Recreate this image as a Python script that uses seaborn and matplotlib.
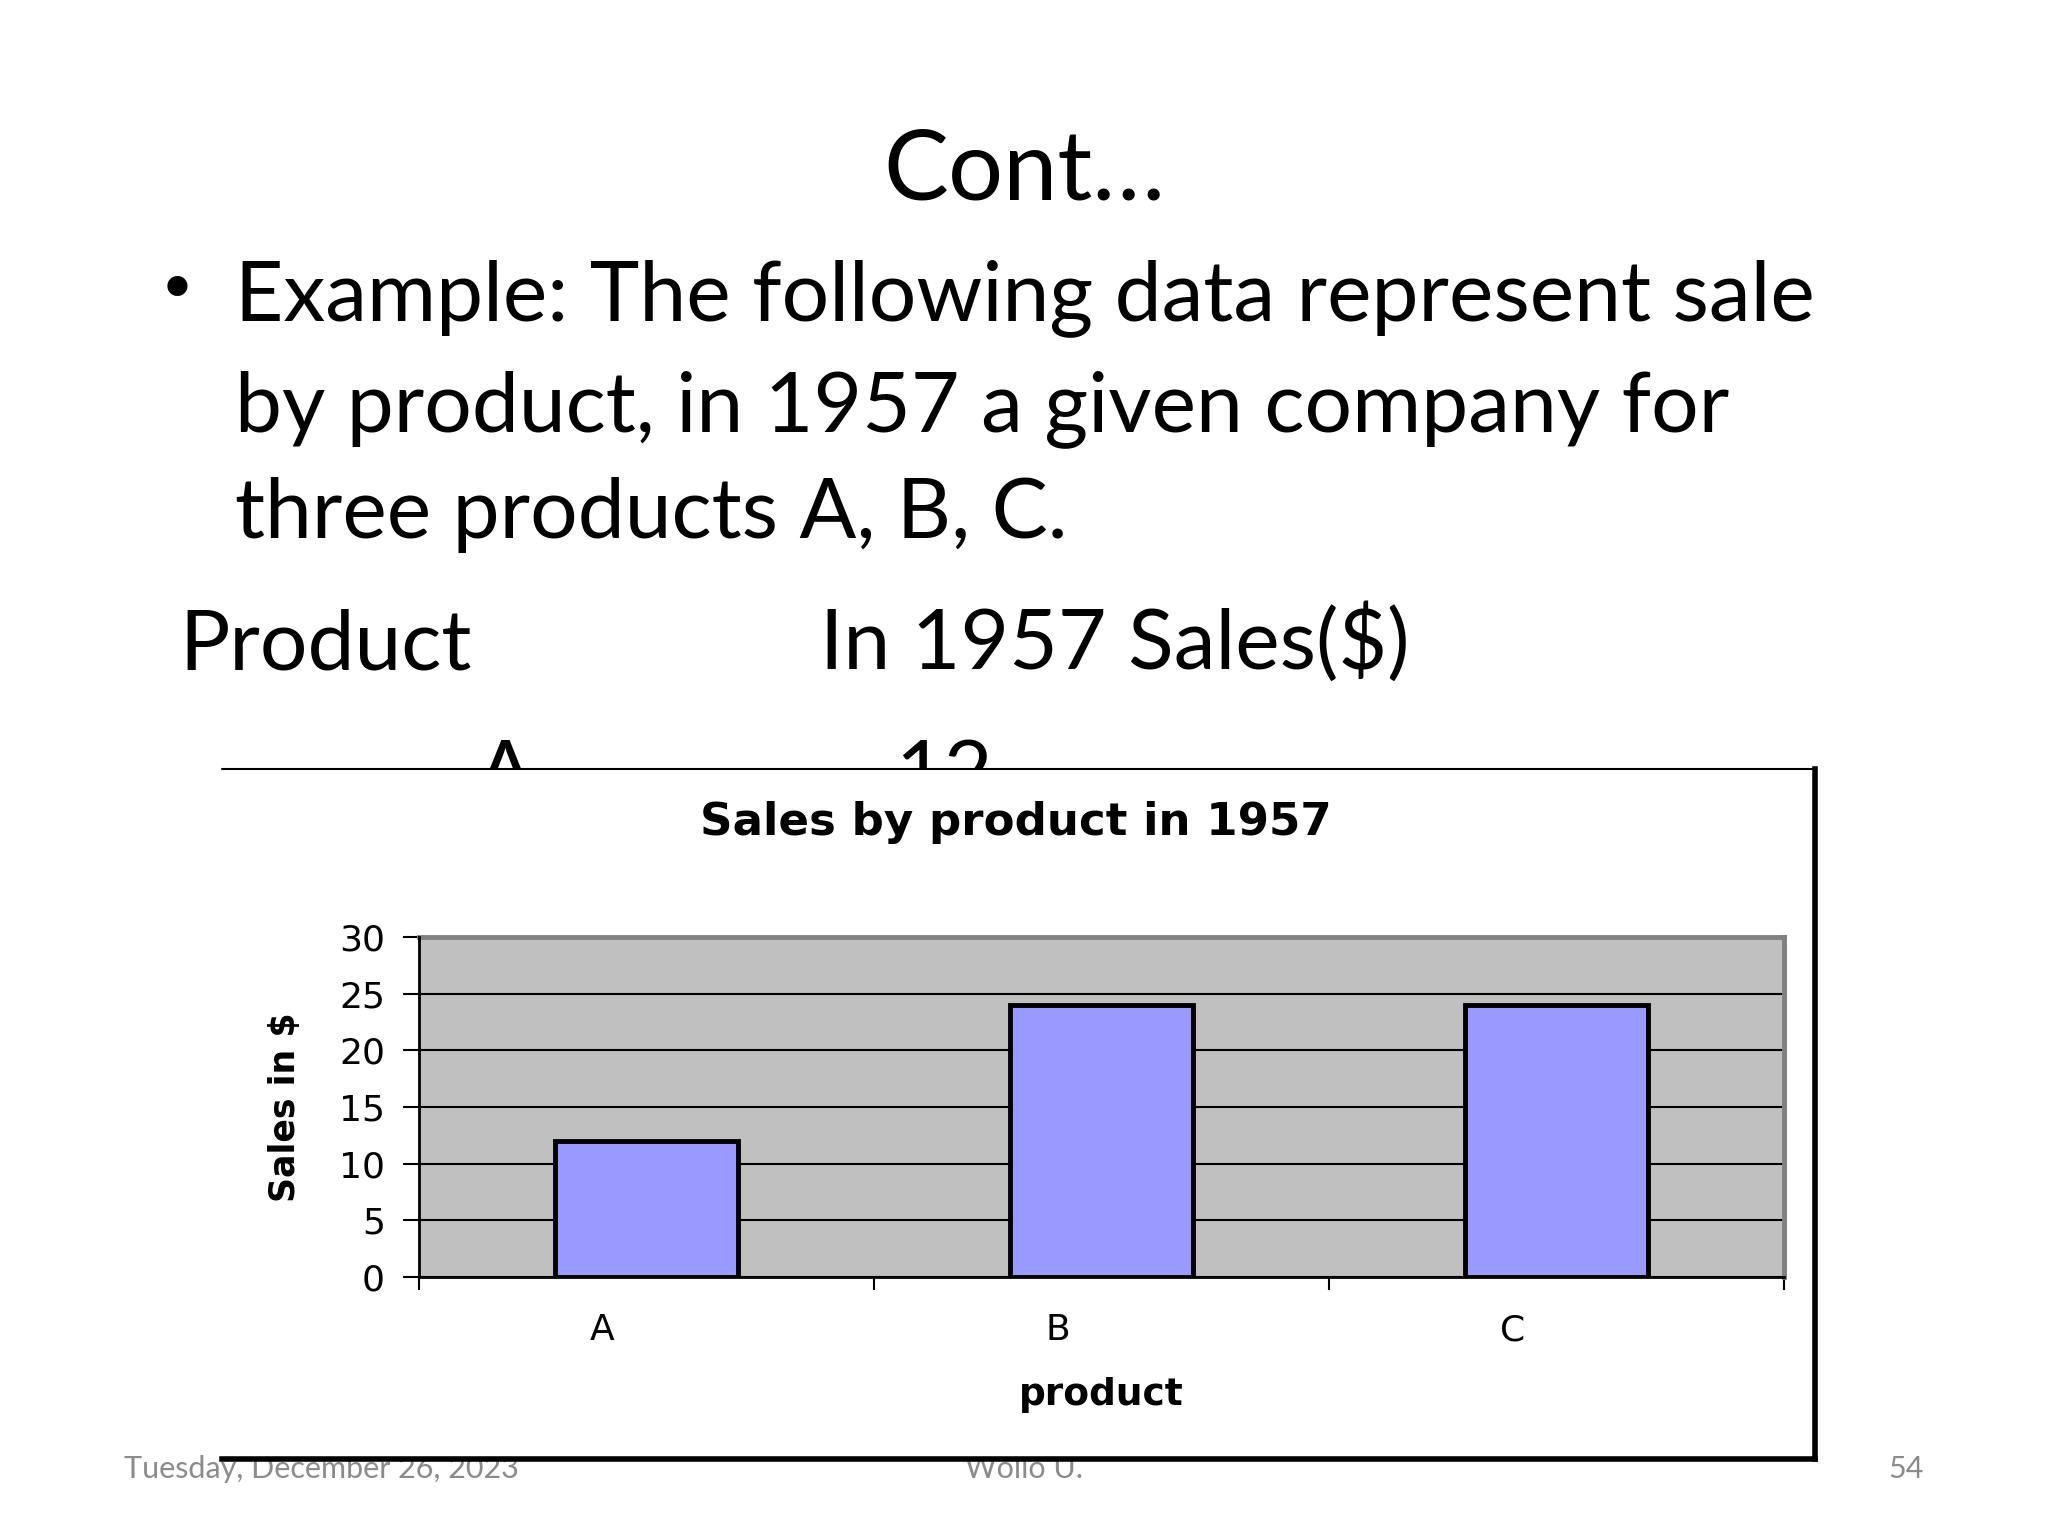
import matplotlib
import matplotlib.pyplot as plt
import matplotlib.transforms as mtransforms
from matplotlib.lines import Line2D
from matplotlib.patches import Rectangle
import seaborn as sns

matplotlib.use("Agg")

W, H = 2048, 1536

products = ["A", "B", "C"]
sales = [12, 24, 24]
y_ticks = [0, 5, 10, 15, 20, 25, 30]

slide_title = "Cont…"
bullet_lines = [
    "Example: The following data represent sale",
    "by product, in 1957 a given company for",
    "three products A, B, C.",
]
table_header = ["Product", "In 1957 Sales($)"]
footer_date = "Tuesday, December 26, 2023"
footer_author = "Wollo U."
footer_page = "54"

SLIDE_FONT = ["Lato", "DejaVu Sans"]


def fx(x):
    return x / W


def fy(y):
    return 1 - y / H


sns.set_theme(style="white")
plt.rcParams["font.family"] = ["DejaVu Sans"]
plt.rcParams["text.color"] = "black"
plt.rcParams["xtick.color"] = "black"
plt.rcParams["ytick.color"] = "black"
plt.rcParams["axes.labelcolor"] = "black"

fig = plt.figure(figsize=(W / 100, H / 100), dpi=100)
fig.patch.set_facecolor("white")

# slide text (sits under the pasted chart picture)
body_kw = dict(ha="left", va="baseline", fontsize=60.5, family=SLIDE_FONT, zorder=1)
fig.text(fx(1024), fy(200), slide_title, ha="center", va="baseline",
         fontsize=70, family=SLIDE_FONT, zorder=1)
fig.text(fx(157), fy(312), "•", ha="left", va="baseline",
         fontsize=50, family=["DejaVu Sans"], zorder=1)
for line, base in zip(bullet_lines, [320, 431, 538]):
    fig.text(fx(235), fy(base), line, **body_kw)
fig.text(fx(179), fy(669), table_header[0], **body_kw)
fig.text(fx(820), fy(669), table_header[1], **body_kw)
fig.text(fx(477), fy(800), products[0], **body_kw)
fig.text(fx(895), fy(800), str(sales[0]), **body_kw)

# footer
foot_kw = dict(va="baseline", fontsize=22, color="#8b8b8b", family=SLIDE_FONT, zorder=1)
fig.text(fx(124), fy(1478), footer_date, ha="left", **foot_kw)
fig.text(fx(1024), fy(1478), footer_author, ha="center", **foot_kw)
fig.text(fx(1924), fy(1478), footer_page, ha="right", **foot_kw)

# chart picture background and frame
x0, x1, y0, y1 = 222, 1815, 769, 1459
fig.patches.append(Rectangle((fx(x0), fy(y1)), fx(x1) - fx(x0), fy(y0) - fy(y1),
                             transform=fig.transFigure, facecolor="white",
                             edgecolor="none", zorder=2))
fig.lines.append(Line2D([fx(x0), fx(x1)], [fy(y0), fy(y0)], transform=fig.transFigure,
                        color="black", lw=1.5, zorder=2.5))
fig.lines.append(Line2D([fx(x1), fx(x1)], [fy(y0), fy(y1)], transform=fig.transFigure,
                        color="black", lw=4, zorder=2.5, solid_capstyle="projecting"))
fig.lines.append(Line2D([fx(x0), fx(x1)], [fy(y1), fy(y1)], transform=fig.transFigure,
                        color="black", lw=4, zorder=2.5, solid_capstyle="projecting"))

fig.text(fx(1016), fy(823), "Sales by product in 1957", ha="center", va="center",
         fontsize=32.5, fontweight="bold", color="black", zorder=3)

# plot area
ax_l, ax_r, ax_t, ax_b = 419, 1784, 937, 1277
ax = fig.add_axes([fx(ax_l), fy(ax_b), fx(ax_r) - fx(ax_l), fy(ax_t) - fy(ax_b)])
ax.set_zorder(3)
ax.set_facecolor("#c0c0c0")

sns.barplot(x=products, y=sales, color="#9999ff", edgecolor="black",
            linewidth=3.5, width=0.404, saturation=1, ax=ax, zorder=3)

ax.set_xlim(-0.5, 2.5)
ax.set_ylim(0, 30)
ax.set_yticks(y_ticks)
ax.yaxis.grid(True, color="black", lw=1.5)
ax.set_axisbelow(True)

for side in ["top", "right"]:
    ax.spines[side].set_color("#808080")
    ax.spines[side].set_linewidth(3.5)
for side in ["left", "bottom"]:
    ax.spines[side].set_color("black")
    ax.spines[side].set_linewidth(2)
    ax.spines[side].set_zorder(4)

ax.tick_params(axis="y", direction="out", length=11.5, width=1.5, color="black",
               pad=13, labelsize=26, left=True)
ax.set_xticks([0, 1, 2])
ax.set_xticks([-0.5, 0.5, 1.5, 2.5], minor=True)
ax.tick_params(axis="x", which="major", length=0, pad=26, labelsize=26)
ax.tick_params(axis="x", which="minor", direction="out", length=9, width=1.5,
               color="black", bottom=True)
shift = mtransforms.ScaledTranslation(-0.44, 0, fig.dpi_scale_trans)
for lab in ax.get_xticklabels():
    lab.set_transform(lab.get_transform() + shift)

ax.set_xlabel("product", fontsize=27, fontweight="bold")
ax.xaxis.set_label_coords(0.5, -0.347)
ax.xaxis.label.set_va("center")
ax.set_ylabel("Sales in $", fontsize=25, fontweight="bold")
ax.yaxis.set_label_coords(-0.098, 0.5)
ax.yaxis.label.set_va("center")

fig.savefig("out.png", dpi=100)
